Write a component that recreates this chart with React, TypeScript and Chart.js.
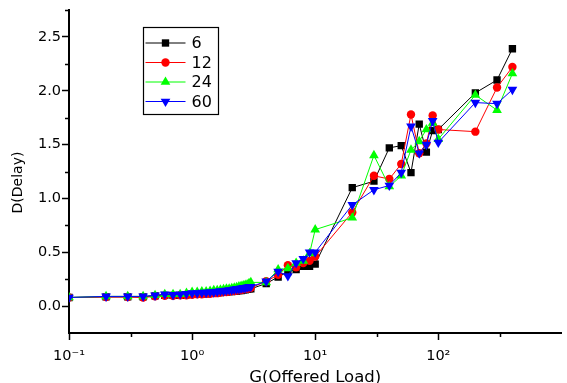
import React, { useEffect, useRef } from "react";
import { Chart, registerables } from "chart.js";

Chart.register(...registerables);

// ---- data ----
const loadValues = [
  0.1, 0.2, 0.3, 0.4, 0.5, 0.6, 0.7, 0.8, 0.9,
  1.0, 1.1, 1.2, 1.3, 1.4, 1.5, 1.6, 1.7, 1.8, 1.9, 2.0,
  2.1, 2.2, 2.3, 2.4, 2.5, 2.6, 2.7, 2.8, 2.9, 3.0,
  4, 5, 6, 7, 8, 9, 10,
  20, 30, 40, 50, 60, 70, 80, 90, 100,
  200, 300, 400,
];

const delay6 = [
  0.08, 0.085, 0.085, 0.085, 0.095, 0.1, 0.1, 0.1, 0.105,
  0.11, 0.11, 0.115, 0.115, 0.12, 0.12, 0.125, 0.125, 0.13, 0.13, 0.135,
  0.135, 0.14, 0.14, 0.145, 0.145, 0.15, 0.15, 0.155, 0.16, 0.16,
  0.21, 0.27, 0.32, 0.34, 0.37, 0.37, 0.39,
  1.1, 1.16, 1.47, 1.49, 1.24, 1.69, 1.43, 1.63, 1.64,
  1.98, 2.1, 2.39,
];
const delay12 = [
  0.08, 0.085, 0.085, 0.08, 0.09, 0.095, 0.095, 0.1, 0.1,
  0.105, 0.11, 0.11, 0.115, 0.115, 0.12, 0.12, 0.125, 0.13, 0.13, 0.135,
  0.14, 0.14, 0.145, 0.15, 0.15, 0.155, 0.16, 0.16, 0.165, 0.17,
  0.23, 0.29, 0.38, 0.36, 0.4, 0.42, 0.46,
  0.87, 1.21, 1.18, 1.32, 1.78, 1.42, 1.51, 1.77, 1.64,
  1.62, 2.03, 2.22,
];
const delay24 = [
  0.08, 0.09, 0.09, 0.09, 0.1, 0.11, 0.11, 0.11, 0.12,
  0.13, 0.13, 0.135, 0.135, 0.14, 0.145, 0.145, 0.15, 0.155, 0.16, 0.16,
  0.165, 0.17, 0.175, 0.18, 0.185, 0.19, 0.195, 0.2, 0.21, 0.22,
  0.22, 0.34, 0.35, 0.4, 0.42, 0.49, 0.71,
  0.82, 1.4, 1.11, 1.21, 1.45, 1.53, 1.64, 1.7, 1.55,
  1.96, 1.82, 2.16,
];
const delay60 = [
  0.08, 0.09, 0.09, 0.09, 0.1, 0.11, 0.105, 0.11, 0.115,
  0.12, 0.12, 0.125, 0.125, 0.13, 0.13, 0.135, 0.14, 0.14, 0.145, 0.15,
  0.15, 0.155, 0.16, 0.16, 0.165, 0.17, 0.17, 0.175, 0.18, 0.18,
  0.23, 0.32, 0.28, 0.4, 0.44, 0.5, 0.5,
  0.94, 1.08, 1.12, 1.24, 1.67, 1.42, 1.5, 1.72, 1.52,
  1.89, 1.88, 2.01,
];

const seriesNames = ["6", "12", "24", "60"];
const seriesValues = [delay6, delay12, delay24, delay60];
const seriesColors = ["#000000", "#ff0000", "#00ff00", "#0000ff"];
const seriesMarkers = ["rect", "circle", "triangle", "triangle"];
const seriesRotations = [0, 0, 0, 180];
const seriesRadius = [5.2, 4.2, 5.6, 5.6];

const xMajorTicks = [0.1, 1, 10, 100];
const xTickLabels = ["10\u207B\u00B9", "10\u2070", "10\u00B9", "10\u00B2"];
const xMinorTicks = [0.316, 3.16, 31.6, 316];
const yMajorTicks = [0, 0.5, 1.0, 1.5, 2.0, 2.5];
const yMinorTicks = [0.25, 0.75, 1.25, 1.75, 2.25, 2.75];

const xTitle = "G(Offered Load)";
const yTitle = "D(Delay)";
const FONT = "'DejaVu Sans', 'Liberation Sans', Arial, sans-serif";

function drawMarker(ctx: CanvasRenderingContext2D, style: string, r: number, rot: number, x: number, y: number) {
  ctx.beginPath();
  if (style === "rect") {
    const s = Math.SQRT1_2 * r;
    ctx.rect(x - s, y - s, 2 * s, 2 * s);
  } else if (style === "circle") {
    ctx.arc(x, y, r, 0, Math.PI * 2);
  } else {
    let a = (rot * Math.PI) / 180;
    ctx.moveTo(x + Math.sin(a) * r, y - Math.cos(a) * r);
    a += (2 * Math.PI) / 3;
    ctx.lineTo(x + Math.sin(a) * r, y - Math.cos(a) * r);
    a += (2 * Math.PI) / 3;
    ctx.lineTo(x + Math.sin(a) * r, y - Math.cos(a) * r);
    ctx.closePath();
  }
  ctx.fill();
}

const decorPlugin = {
  id: "decor",
  afterDraw(chart: any) {
    const ctx: CanvasRenderingContext2D = chart.ctx;
    const xs = chart.scales.x;
    const ys = chart.scales.y;
    const area = chart.chartArea;
    ctx.save();
    // minor ticks
    ctx.strokeStyle = "#000";
    ctx.lineWidth = 1.5;
    ctx.beginPath();
    xMinorTicks.forEach((v) => {
      const px = Math.round(xs.getPixelForValue(v)) + 0.5;
      ctx.moveTo(px, area.bottom);
      ctx.lineTo(px, area.bottom + 4);
    });
    yMinorTicks.forEach((v) => {
      const py = Math.round(ys.getPixelForValue(v)) + 0.5;
      ctx.moveTo(area.left, py);
      ctx.lineTo(area.left - 4, py);
    });
    ctx.stroke();

    // y title
    ctx.fillStyle = "#000";
    ctx.font = `14px ${FONT}`;
    ctx.textAlign = "center";
    ctx.textBaseline = "middle";
    ctx.translate(18, 182.5);
    ctx.rotate(-Math.PI / 2);
    ctx.fillText(yTitle, 0, 0);
    ctx.restore();

    // legend
    ctx.save();
    const bx = area.left + 74.5;
    const by = area.top + 17.5;
    const bw = 75;
    const bh = 87;
    ctx.fillStyle = "#fff";
    ctx.fillRect(bx, by, bw, bh);
    ctx.strokeStyle = "#000";
    ctx.lineWidth = 1.2;
    ctx.strokeRect(bx, by, bw, bh);
    ctx.font = `16px ${FONT}`;
    ctx.textAlign = "left";
    ctx.textBaseline = "middle";
    seriesNames.forEach((name, i) => {
      const ry = by + 15.5 + i * 19.5;
      ctx.strokeStyle = seriesColors[i];
      ctx.lineWidth = 1;
      ctx.beginPath();
      ctx.moveTo(bx + 2, ry);
      ctx.lineTo(bx + 42, ry);
      ctx.stroke();
      ctx.fillStyle = seriesColors[i];
      drawMarker(ctx, seriesMarkers[i], seriesRadius[i], seriesRotations[i], bx + 22, ry);
      ctx.fillStyle = "#000";
      ctx.fillText(name, bx + 48, ry + 1);
    });
    ctx.restore();
  },
};

export default function App() {
  const canvasRef = useRef<HTMLCanvasElement | null>(null);

  useEffect(() => {
    document.body.style.margin = "0";
    const canvas = canvasRef.current;
    if (!canvas) return;
    const datasets = seriesNames.map((name, i) => ({
      label: name,
      data: loadValues.map((x, j) => ({ x, y: seriesValues[i][j] })),
      borderColor: seriesColors[i],
      backgroundColor: seriesColors[i],
      borderWidth: 1,
      pointStyle: seriesMarkers[i],
      pointRotation: seriesRotations[i],
      pointRadius: seriesRadius[i],
      pointBorderWidth: 0,
      pointBackgroundColor: seriesColors[i],
      tension: 0,
      order: 3 - i,
    }));
    const chart = new Chart(canvas, {
      type: "line",
      data: { datasets },
      options: {
        animation: false,
        responsive: false,
        devicePixelRatio: 1,
        layout: { padding: { top: 10, right: 0, left: 0, bottom: 0 } },
        plugins: { legend: { display: false }, tooltip: { enabled: false } },
        scales: {
          x: {
            type: "logarithmic",
            min: 0.1,
            max: 1000,
            afterBuildTicks: (s: any) => {
              s.ticks = xMajorTicks.map((v) => ({ value: v, major: true }));
            },
            afterFit: (s: any) => {
              s.height = 50;
            },
            grid: { display: true, drawOnChartArea: false, drawTicks: true, tickLength: 7, tickColor: "#000", tickWidth: 1.5 },
            border: { display: true, color: "#000", width: 2 },
            ticks: {
              autoSkip: false,
              maxRotation: 0,
              padding: 8,
              color: "#000",
              font: { family: FONT, size: 14.5 },
              callback: (v: any) => {
                const idx = xMajorTicks.findIndex((t) => Math.abs(t - Number(v)) < 1e-9 * Math.max(1, t));
                return idx >= 0 ? xTickLabels[idx] : "";
              },
            },
            title: {
              display: true,
              text: xTitle,
              color: "#000",
              font: { family: FONT, size: 16.5, lineHeight: 1 },
              padding: { top: 0, bottom: -3 },
            },
          },
          y: {
            type: "linear",
            min: -0.25,
            max: 2.75,
            afterBuildTicks: (s: any) => {
              s.ticks = yMajorTicks.map((v) => ({ value: v }));
            },
            afterFit: (s: any) => {
              s.width = 69;
            },
            grid: { display: true, drawOnChartArea: false, drawTicks: true, tickLength: 7, tickColor: "#000", tickWidth: 1.5 },
            border: { display: true, color: "#000", width: 2 },
            ticks: {
              padding: 1,
              color: "#000",
              font: { family: FONT, size: 14.5 },
              callback: (v: any) => Number(v).toFixed(1),
            },
          },
        },
      },
      plugins: [decorPlugin],
    } as any);
    return () => chart.destroy();
  }, []);

  return (
    <div style={{ position: "absolute", left: 0, top: 0, width: 567, height: 383 }}>
      <canvas ref={canvasRef} width={567} height={383} style={{ width: 567, height: 383 }} />
    </div>
  );
}
